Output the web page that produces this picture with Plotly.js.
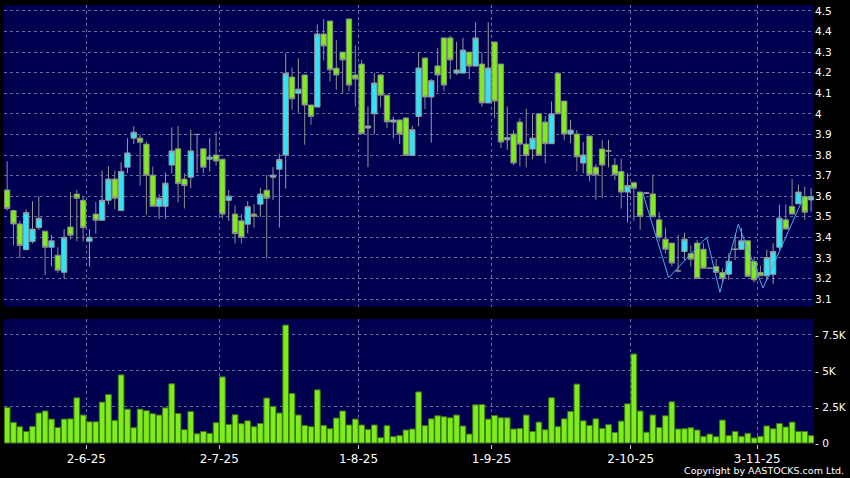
<!DOCTYPE html>
<html>
<head>
<meta charset="utf-8">
<script src="https://cdn.plot.ly/plotly-3.0.1.min.js"></script>
<style>html,body{margin:0;padding:0;background:#000;}#chart{width:850px;height:478px;}</style>
</head>
<body>
<div id="chart"></div>
<script>
const dates = [
"2025-05-14","2025-05-15","2025-05-16","2025-05-19","2025-05-20","2025-05-21","2025-05-22","2025-05-23","2025-05-26","2025-05-27","2025-05-28","2025-05-29","2025-05-30",
"2025-06-02","2025-06-03","2025-06-04","2025-06-05","2025-06-06","2025-06-09","2025-06-10","2025-06-11","2025-06-12","2025-06-13","2025-06-16","2025-06-17","2025-06-18","2025-06-19","2025-06-20","2025-06-23","2025-06-24","2025-06-25","2025-06-26","2025-06-27","2025-06-30",
"2025-07-02","2025-07-03","2025-07-04","2025-07-07","2025-07-08","2025-07-09","2025-07-10","2025-07-11","2025-07-14","2025-07-15","2025-07-16","2025-07-17","2025-07-18","2025-07-21","2025-07-22","2025-07-23","2025-07-24","2025-07-25","2025-07-28","2025-07-29","2025-07-30","2025-07-31",
"2025-08-01","2025-08-04","2025-08-05","2025-08-06","2025-08-07","2025-08-08","2025-08-11","2025-08-12","2025-08-13","2025-08-14","2025-08-15","2025-08-18","2025-08-19","2025-08-20","2025-08-21","2025-08-22","2025-08-25","2025-08-26","2025-08-27","2025-08-28","2025-08-29",
"2025-09-01","2025-09-02","2025-09-03","2025-09-04","2025-09-05","2025-09-08","2025-09-09","2025-09-10","2025-09-11","2025-09-12","2025-09-15","2025-09-16","2025-09-17","2025-09-18","2025-09-19","2025-09-22","2025-09-23","2025-09-24","2025-09-25","2025-09-26","2025-09-29","2025-09-30",
"2025-10-02","2025-10-03","2025-10-06","2025-10-08","2025-10-09","2025-10-10","2025-10-13","2025-10-14","2025-10-15","2025-10-16","2025-10-17","2025-10-20","2025-10-21","2025-10-22","2025-10-23","2025-10-24","2025-10-27","2025-10-28","2025-10-30","2025-10-31",
"2025-11-03","2025-11-04","2025-11-05","2025-11-06","2025-11-07","2025-11-10","2025-11-11","2025-11-12","2025-11-13"
];

const openP = [3.63,3.53,3.465,3.34,3.38,3.447,3.43,3.352,3.313,3.23,
3.45,3.61,3.58,3.381,3.513,3.483,3.58,3.683,3.53,3.741,
3.882,3.882,3.853,3.702,3.551,3.551,3.751,3.83,3.683,3.692,
3.90,3.83,3.78,3.80,3.78,3.58,3.513,3.48,3.464,3.513,
3.561,3.629,3.692,3.731,3.80,4.179,4.10,4.189,4.043,4.033,
4.388,4.451,4.222,4.30,4.461,4.189,4.242,3.931,4.0,4.189,
4.091,3.96,3.97,3.98,3.798,3.987,4.271,4.082,4.233,4.369,
4.369,4.198,4.198,4.30,4.232,4.242,4.053,4.349,4.242,3.874,
3.902,3.96,3.853,3.829,4.0,3.96,3.855,4.197,4.062,3.902,
3.902,3.761,3.892,3.741,3.829,3.82,3.751,3.72,3.62,3.665,
3.62,3.615,3.611,3.485,3.391,3.372,3.237,3.331,3.321,3.372,
3.342,3.25,3.258,3.229,3.221,3.342,3.342,3.383,3.283,3.229,
3.213,3.22,3.352,3.485,3.55,3.563,3.598,3.582];

const highP = [3.77,3.535,3.48,3.535,3.575,3.60,3.43,3.412,3.352,3.44,
3.62,3.63,3.60,3.44,3.572,3.725,3.745,3.723,3.764,3.882,
3.94,3.90,3.865,3.744,3.61,3.715,3.934,3.942,3.712,3.923,
3.90,3.83,3.882,3.911,3.78,3.63,3.555,3.513,3.576,3.561,
3.64,3.702,3.741,3.806,4.294,4.225,4.27,4.19,4.043,4.435,
4.461,4.451,4.36,4.30,4.461,4.333,4.263,4.036,4.198,4.19,
4.091,3.987,3.97,3.985,3.942,4.30,4.275,4.169,4.32,4.37,
4.38,4.35,4.37,4.30,4.445,4.30,4.445,4.35,4.242,4.036,
3.921,3.98,4.025,4.0,4.0,3.99,4.06,4.197,4.062,3.971,
3.921,3.863,3.895,3.756,3.874,3.874,3.785,3.783,3.712,3.671,
3.62,3.62,3.704,3.522,3.447,3.372,3.412,3.423,3.359,3.388,
3.371,3.25,3.294,3.25,3.323,3.412,3.445,3.385,3.307,3.262,
3.339,3.372,3.558,3.56,3.683,3.655,3.647,3.639];

const lowP = [3.53,3.36,3.30,3.34,3.37,3.436,3.217,3.258,3.228,3.20,
3.39,3.38,3.38,3.258,3.418,3.483,3.56,3.537,3.53,3.712,
3.853,3.652,3.51,3.551,3.49,3.49,3.712,3.569,3.54,3.639,
3.712,3.71,3.72,3.749,3.491,3.48,3.37,3.37,3.42,3.447,
3.50,3.30,3.582,3.447,3.637,4.02,4.005,3.85,3.947,4.033,
4.26,4.158,4.117,4.10,4.109,4.035,3.903,3.741,3.90,4.031,
3.931,3.882,3.853,3.795,3.798,3.939,4.023,3.86,4.106,4.11,
4.169,4.189,4.198,4.169,4.232,4.035,4.053,3.978,3.834,3.825,
3.75,3.745,3.74,3.78,3.795,3.76,3.855,4.0,3.872,3.858,
3.72,3.712,3.671,3.582,3.59,3.74,3.679,3.54,3.472,3.48,
3.436,3.61,3.50,3.38,3.323,3.26,3.23,3.29,3.258,3.20,
3.25,3.25,3.23,3.177,3.193,3.29,3.342,3.21,3.18,3.213,
3.193,3.174,3.339,3.44,3.51,3.563,3.485,3.525];

const closeP = [3.54,3.465,3.36,3.52,3.44,3.493,3.352,3.383,3.24,3.40,
3.41,3.59,3.447,3.40,3.483,3.58,3.683,3.59,3.72,3.81,
3.911,3.862,3.702,3.551,3.59,3.663,3.82,3.661,3.652,3.82,
3.90,3.741,3.79,3.771,3.513,3.60,3.418,3.40,3.549,3.503,
3.61,3.59,3.702,3.778,4.197,4.073,4.12,4.043,3.987,4.388,
4.33,4.214,4.189,4.262,4.14,4.169,3.903,3.941,4.15,4.091,
3.961,3.97,3.902,3.798,3.923,4.223,4.082,4.161,4.189,4.14,
4.262,4.213,4.31,4.232,4.369,4.053,4.223,4.062,3.863,3.884,
3.761,3.853,3.798,3.882,3.798,3.855,4.0,4.0,3.902,3.921,
3.791,3.80,3.704,3.704,3.751,3.82,3.704,3.62,3.652,3.639,
3.501,3.615,3.50,3.40,3.342,3.275,3.237,3.391,3.294,3.20,
3.25,3.25,3.23,3.20,3.284,3.342,3.383,3.21,3.193,3.213,
3.302,3.331,3.493,3.44,3.513,3.62,3.522,3.598];

// volume in thousands
const volumeK = [2.47,1.43,1.13,0.80,1.15,2.08,2.22,1.66,1.08,1.66,
1.68,3.14,1.94,1.47,1.47,2.84,3.37,1.57,4.73,2.35,
1.06,2.35,2.24,2.03,1.94,2.44,4.11,2.05,0.92,2.19,
0.64,0.80,0.67,1.41,4.59,1.29,1.96,1.34,1.54,1.13,
1.36,3.12,2.54,2.08,8.19,3.44,1.94,1.22,1.13,3.69,
1.22,0.99,1.73,2.22,1.25,1.66,1.25,0.94,1.25,0.37,
1.20,0.44,0.51,0.90,0.97,3.55,1.20,1.68,1.89,1.82,
1.75,1.94,1.18,0.62,2.65,2.67,1.66,1.91,1.75,1.75,
0.97,1.01,1.94,0.80,1.45,0.92,3.14,1.13,1.68,2.19,
4.09,1.54,1.22,1.68,1.01,1.27,0.73,1.52,2.72,6.18,
2.22,0.75,1.94,1.08,1.89,2.86,0.97,0.99,1.06,0.90,
0.46,0.62,0.44,1.59,0.51,0.80,0.46,0.67,0.35,0.46,
1.18,0.99,1.36,1.11,1.45,0.80,0.80,0.51];

// zigzag indicator line (positions in trading-day index, price)
const zigzagPos = [100.4,104.5,110.5,112.6,115.5,119.4,125.9];
const zigzagPrice = [3.616,3.204,3.40,3.133,3.464,3.153,3.60];

const labelDates = ["2025-06-02","2025-07-02","2025-08-01","2025-09-01","2025-10-02","2025-11-03"];
const labelText = ["2-6-25","2-7-25","1-8-25","1-9-25","2-10-25","3-11-25"];
const priceTicks = [3.1,3.2,3.3,3.4,3.5,3.6,3.7,3.8,3.9,4,4.1,4.2,4.3,4.4,4.5];
const volTicks = [0,2500,5000,7500];
const volTickText = ["0","2.5K","5K","7.5K"];

const idx = dates.map((d,i)=>i);
const volume = volumeK.map(v=>v*1000);
const boundaryVals = labelDates.map(d=>dates.indexOf(d)-0.5);

const GREEN = '#7fec1c';
const CYAN = '#2fe4f6';
const GRID = '#6a6aa0';
const FONT = 'DejaVu Sans, sans-serif';

const traces = [
  {
    type:'candlestick', x: idx, open: openP, high: highP, low: lowP, close: closeP,
    xaxis:'x', yaxis:'y',
    increasing:{line:{color:'#9a9a9a', width:1}, fillcolor: CYAN},
    decreasing:{line:{color:'#8a8a8a', width:1}, fillcolor: GREEN},
    whiskerwidth:0, hoverinfo:'skip'
  },
  {
    type:'scatter', mode:'lines', x: zigzagPos, y: zigzagPrice,
    xaxis:'x', yaxis:'y', line:{color:'#47aef0', width:1}, hoverinfo:'skip'
  },
  {
    type:'bar', x: idx, y: volume, xaxis:'x2', yaxis:'y2',
    marker:{color: GREEN, line:{color:'#3d7a12', width:1}}, hoverinfo:'skip'
  }
];

const gridCommon = {showgrid:true, gridcolor:GRID, gridwidth:1, griddash:'3px,3px', zeroline:false, showline:false};

const layout = {
  width:850, height:478,
  margin:{l:4, r:36, t:5, b:34},
  paper_bgcolor:'#000000', plot_bgcolor:'#000050',
  showlegend:false, bargap:0.1, boxgap:0.16, boxgroupgap:0,
  font:{family:FONT, color:'#ffffff'},
  xaxis: Object.assign({domain:[0,1], anchor:'y', range:[-0.5,127.46], tickmode:'array', tickvals:boundaryVals,
    showticklabels:false, ticks:'', rangeslider:{visible:false}, fixedrange:true}, gridCommon),
  xaxis2: Object.assign({domain:[0,1], anchor:'y2', range:[-0.5,127.46], tickmode:'array', tickvals:boundaryVals, ticktext:labelText,
    ticks:'outside', ticklen:4, tickcolor:'#cccccc', tickfont:{family:FONT, size:12, color:'#ffffff'}}, gridCommon),
  yaxis: Object.assign({domain:[0.3128,1], anchor:'x', side:'right', range:[3.063,4.529], tickmode:'array', tickvals:priceTicks,
    tickprefix:'- ', ticks:'', tickfont:{family:FONT, size:10.5, color:'#ffffff'}}, gridCommon),
  yaxis2: Object.assign({domain:[0,0.2847], anchor:'x2', side:'right', range:[-70,8610], tickmode:'array', tickvals:volTicks,
    ticktext: volTickText.map(t=>'- '+t), ticks:'', tickfont:{family:FONT, size:10.5, color:'#ffffff'}}, gridCommon),
  annotations:[{text:'Copyright by AASTOCKS.com Ltd.', xref:'paper', yref:'paper', x:1.039, y:-0.0615,
    xanchor:'right', yanchor:'middle', showarrow:false, font:{family:FONT, size:9.5, color:'#ffffff'}}]
};

Plotly.newPlot('chart', traces, layout, {displayModeBar:false, staticPlot:true});
</script>
</body>
</html>
